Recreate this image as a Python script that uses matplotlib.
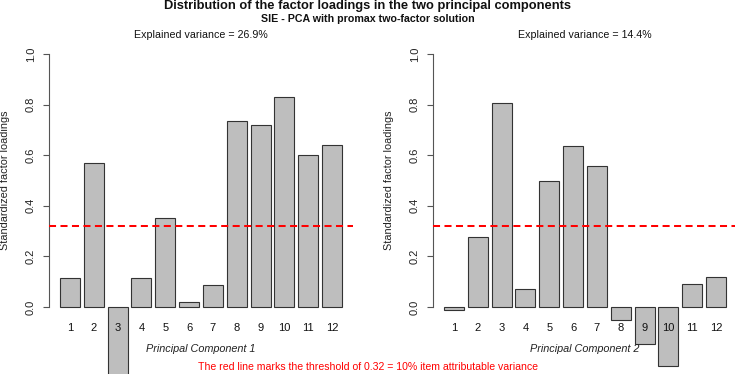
import numpy as np
import matplotlib.pyplot as plt

plt.rcParams['font.family'] = ['Liberation Sans', 'DejaVu Sans']

items = [str(i) for i in range(1, 13)]
pc1 = [0.115, 0.569, -0.30, 0.115, 0.352, 0.019, 0.087, 0.736, 0.718, 0.829, 0.602, 0.641]
pc2 = [-0.010, 0.275, 0.807, 0.072, 0.500, 0.637, 0.558, -0.050, -0.145, -0.235, 0.090, 0.117]
explained = [26.9, 14.4]
threshold = 0.32

W, H = 735, 374
fig = plt.figure(figsize=(W / 100, H / 100), dpi=100)

# plot regions in pixels (left, top, right, bottom)
regions = [(48.7, 43.9, 353.3, 317.1), (432.7, 43.9, 737.3, 317.1)]

centers = 0.7 + 1.2 * np.arange(len(items))

for k, (vals, reg) in enumerate(zip([pc1, pc2], regions)):
    l, t, r, b = reg
    ax = fig.add_axes([l / W, (H - b) / H, (r - l) / W, (b - t) / H])
    ax.bar(centers, vals, width=1.0, color='#bebebe', edgecolor='#333333',
           linewidth=0.8, clip_on=False, zorder=2)
    ax.set_xlim(0.2 - 0.568, 14.4 + 0.568)
    ax.set_ylim(-0.04, 1.04)
    ax.axhline(threshold, color='red', linewidth=1.45,
               linestyle=(0, (3.5, 2.2)), zorder=3)
    ax.set_axisbelow(False)
    for s in ['top', 'right', 'bottom']:
        ax.spines[s].set_visible(False)
    ax.spines['left'].set_bounds(0, 1)
    ax.spines['left'].set_color('#555555')
    ax.spines['left'].set_linewidth(0.8)
    ax.set_yticks([0, 0.2, 0.4, 0.6, 0.8, 1.0])
    ax.set_yticklabels(['0.0', '0.2', '0.4', '0.6', '0.8', '1.0'],
                       rotation=90, va='center', fontsize=8, color='#222222')
    ax.tick_params(axis='y', length=4.3, width=0.8, color='#555555', pad=5)
    ax.set_xticks(centers)
    ax.set_xticklabels(items, fontsize=8, color='#111111')
    ax.tick_params(axis='x', length=0, pad=4)
    ax.patch.set_visible(False)
    ax.text(0.5, -(349 - b) / (b - t), 'Principal Component %d' % (k + 1),
            transform=ax.transAxes, ha='center', va='center',
            fontstyle='italic', fontsize=7.8, color='#222222')
    ax.text(-44 / (r - l), 0.5, 'Standardized factor loadings',
            transform=ax.transAxes, ha='center', va='center', rotation=90,
            fontsize=7.8, color='#222222')
    ax.text(0.5, 1 + 9 / (b - t), 'Explained variance = %.1f%%' % explained[k],
            transform=ax.transAxes, ha='center', va='center',
            fontsize=7.7, color='#111111')

fig.text(0.5, 1 - 6 / H, 'Distribution of the factor loadings in the two principal components',
         ha='center', va='center', fontsize=9.25, fontweight='bold', color='#111111')
fig.text(0.5, 1 - 19 / H, 'SIE - PCA with promax two-factor solution',
         ha='center', va='center', fontsize=7.65, fontweight='bold', color='#111111')
fig.text(0.5, 1 - 367 / H,
         'The red line marks the threshold of 0.32 = 10% item attributable variance',
         ha='center', va='center', fontsize=7.6, color='red')

fig.savefig('out.png', dpi=100)
